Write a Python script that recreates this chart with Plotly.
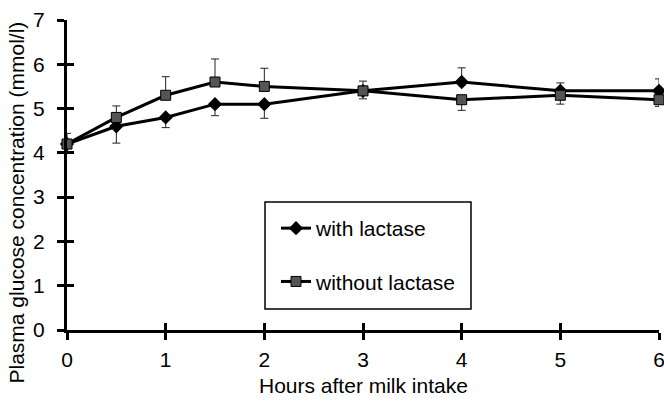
import plotly.graph_objects as go

hours = [0, 0.5, 1, 1.5, 2, 3, 4, 5, 6]

with_lactase = [4.2, 4.6, 4.8, 5.1, 5.1, 5.4, 5.6, 5.4, 5.4]
with_err_plus = [0, 0, 0, 0, 0, 0, 0.32, 0.18, 0.27]
with_err_minus = [0.2, 0.38, 0.23, 0.26, 0.32, 0.18, 0, 0, 0]

without_lactase = [4.2, 4.8, 5.3, 5.6, 5.5, 5.4, 5.2, 5.3, 5.2]
without_err_plus = [0.24, 0.26, 0.42, 0.52, 0.41, 0.22, 0, 0, 0]
without_err_minus = [0, 0, 0, 0, 0, 0, 0.24, 0.2, 0.15]

x_ticks = [0, 1, 2, 3, 4, 5, 6]
y_ticks = [0, 1, 2, 3, 4, 5, 6, 7]

FONT = "Liberation Sans, Arial, sans-serif"
L, R, T, B = 67, 5, 20, 76
W, H = 664, 406
PW, PH = W - L - R, H - T - B


def px_x(p):
    return (p - L) / PW


def px_y(p):
    return (H - B - p) / PH


fig = go.Figure()

fig.add_trace(go.Scatter(
    x=hours, y=with_lactase, name="with lactase", mode="lines+markers",
    line=dict(color="black", width=3),
    marker=dict(symbol="diamond", size=11, color="black"),
    error_y=dict(type="data", symmetric=False, array=with_err_plus,
                 arrayminus=with_err_minus, color="#222", thickness=1, width=4),
    legendgroup="a", cliponaxis=False,
))
# second series sits on the overlay axes (same ranges) so those axes are drawn,
# giving the inside half of the crossing ticks
fig.add_trace(go.Scatter(
    x=hours, y=without_lactase, name="without lactase", mode="lines+markers",
    xaxis="x2", yaxis="y2",
    line=dict(color="black", width=3),
    marker=dict(symbol="square", size=10, color="#555555",
                line=dict(color="black", width=1)),
    error_y=dict(type="data", symmetric=False, array=without_err_plus,
                 arrayminus=without_err_minus, color="#222", thickness=1, width=4),
    legendgroup="b", cliponaxis=False,
))

axis_common = dict(showgrid=False, zeroline=False, showline=True,
                   linecolor="black", linewidth=3, ticks="outside",
                   ticklen=7, tickwidth=3, tickcolor="black", automargin=False,
                   ticklabeloverflow="allow")
overlay_common = dict(showgrid=False, zeroline=False, showticklabels=False,
                      showline=False, automargin=False,
                      ticks="inside", ticklen=7, tickwidth=3, tickcolor="black")

fig.update_layout(
    width=W, height=H,
    margin=dict(l=L, r=R, t=T, b=B, autoexpand=False),
    paper_bgcolor="white", plot_bgcolor="white",
    font=dict(family=FONT, size=21, color="black"),
    xaxis=dict(range=[0, 6], tickvals=x_ticks, ticklabelstandoff=2,
               **axis_common),
    yaxis=dict(range=[0, 7], tickvals=y_ticks, ticklabelstandoff=8,
               **axis_common),
    xaxis2=dict(range=[0, 6], tickvals=x_ticks, overlaying="x", anchor="y2",
                **overlay_common),
    yaxis2=dict(range=[0, 7], tickvals=y_ticks, overlaying="y", anchor="x2",
                **overlay_common),
    showlegend=True,
    legend=dict(x=px_x(276), y=px_y(208), xanchor="left", yanchor="top",
                bgcolor="rgba(0,0,0,0)", borderwidth=0,
                font=dict(family=FONT, size=21), tracegroupgap=23,
                itemwidth=30),
    shapes=[dict(type="rect", xref="paper", yref="paper",
                 x0=px_x(265), x1=px_x(471), y0=px_y(202), y1=px_y(309),
                 line=dict(color="black", width=1.5), fillcolor="white",
                 layer="below")],
    annotations=[
        dict(text="Plasma glucose concentration (mmol/l)",
             textangle=-90, xref="paper", yref="paper",
             x=px_x(15.5), y=px_y(203),
             xanchor="center", yanchor="middle", showarrow=False,
             font=dict(family=FONT, size=21)),
        dict(text="Hours after milk intake", xref="paper", yref="paper",
             x=px_x(363), y=px_y(385), xanchor="center", yanchor="middle",
             showarrow=False, font=dict(family=FONT, size=21)),
    ],
)

fig.write_html("out.html",
               config={"displayModeBar": False},
               post_script="document.body.style.margin='0';"
                           "document.body.style.overflow='hidden';")
